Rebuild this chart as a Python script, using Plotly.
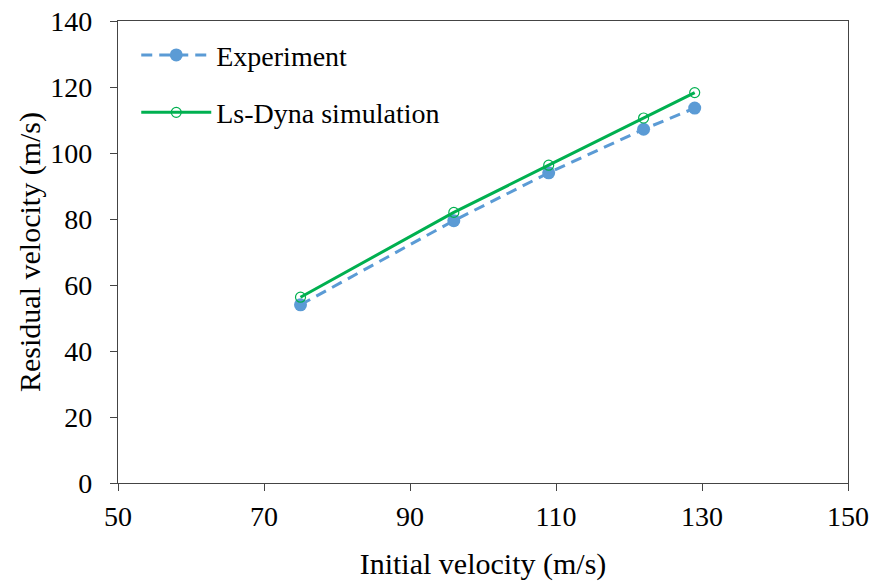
import plotly.graph_objects as go

initial_velocity = [75, 96, 109, 122, 129]
experiment = [54, 79.5, 94, 107.2, 113.6]
simulation = [56.3, 82, 96.3, 110.6, 118.3]

x_ticks = [50, 70, 90, 110, 130, 150]
y_ticks = [0, 20, 40, 60, 80, 100, 120, 140]

fig = go.Figure()
fig.add_trace(go.Scatter(
    x=initial_velocity, y=experiment, name="Experiment",
    mode="lines+markers", legendgroup="exp",
    line=dict(color="#5B9BD5", width=3, dash="11px,7px"),
    marker=dict(color="#5B9BD5", size=13, symbol="circle"),
))
fig.add_trace(go.Scatter(
    x=initial_velocity, y=simulation, name="Ls-Dyna simulation",
    mode="lines+markers", legendgroup="sim",
    line=dict(color="#00B050", width=3),
    marker=dict(color="#00B050", size=10, symbol="circle-open", line=dict(width=1.2)),
))

font = "Liberation Serif, Times New Roman, serif"
fig.update_layout(
    width=872, height=581,
    margin=dict(l=118, r=24, t=21, b=98),
    paper_bgcolor="white", plot_bgcolor="white",
    font=dict(family=font, size=28, color="black"),
    showlegend=True,
    legend=dict(x=0.025, y=0.98, xanchor="left", yanchor="top",
                font=dict(family=font, size=28, color="black"),
                bgcolor="rgba(0,0,0,0)", itemwidth=70, tracegroupgap=18),
    xaxis=dict(range=[50, 150], tickvals=x_ticks, ticks="outside", ticklen=7,
               tickcolor="#444", showline=True, linecolor="#444", linewidth=1.3,
               mirror=True, showgrid=False, zeroline=False, automargin=False,
               tickfont=dict(size=28), ticklabelstandoff=1, ticklabeloverflow="allow",
               title=dict(text="Initial velocity (m/s)", font=dict(size=30), standoff=25)),
    yaxis=dict(range=[0, 140], tickvals=y_ticks, ticks="outside", ticklen=7,
               tickcolor="#444", showline=True, linecolor="#444", linewidth=1.3,
               mirror=True, showgrid=False, zeroline=False, automargin=False,
               tickfont=dict(size=28), ticklabelstandoff=12, ticklabeloverflow="allow",
               title=dict(text="Residual velocity (m/s)", font=dict(size=30), standoff=0)),
)

fig.write_html("out.html", config={"displayModeBar": False},
               post_script="document.body.style.margin='0';")
